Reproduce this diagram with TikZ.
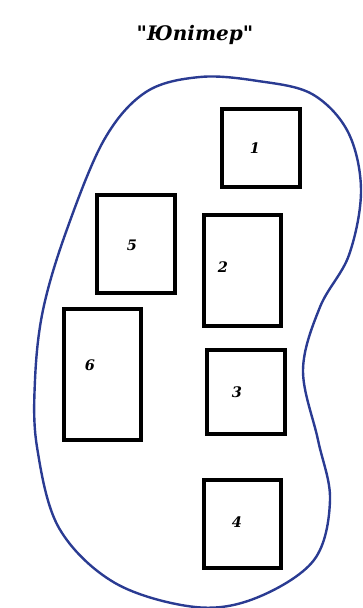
\documentclass[tikz,border=0pt]{standalone}
\usepackage{fontspec}
\setmainfont{DejaVu Serif}[Ligatures=TeXOff]
\usepackage{xcolor}
\usepackage{tikz}
\usetikzlibrary{positioning}
\definecolor{planet}{HTML}{2A3B92}
\newcommand{\qmark}{{\upshape\char"22}}
\tikzset{
  blob/.style={draw=planet,line width=2.4pt},
  room/.style={draw=black,line width=4pt,fill=white,inner sep=0pt},
  num/.style={font=\fontsize{14.5}{16}\selectfont\bfseries\itshape},
  title/.style={font=\fontsize{20}{24}\selectfont\bfseries\itshape},
}
\begin{document}
\begin{tikzpicture}[x=1pt,y=-1pt]
\useasboundingbox (0,0) rectangle (363,608);
% title
\node[title] (tt) at (195,35) {\qmark Юпітер\qmark};
% outline of the planet
\draw[blob] plot[smooth cycle,tension=0.58] coordinates {
  (200,77) (258,81) (312,94) (348,132) (361,190) (349,255) (320,307)
  (303,370) (318,440) (330,500) (314,560) (256,598) (195,607) (115,583)
  (59,528) (37,447) (35,380) (43,310) (66,232) (104,140) (146,92)};
% boxes
\node[room,minimum width=78pt,minimum height=78pt] (b1) at (261,148) {};
\node[room,minimum width=77pt,minimum height=111pt] (b2) at (242.5,270.5) {};
\node[room,minimum width=78pt,minimum height=84pt] (b3) at (246,392) {};
\node[room,minimum width=77pt,minimum height=88pt] (b4) at (242.5,524) {};
\node[room,minimum width=78pt,minimum height=98pt] (b5) at (136,244) {};
\node[room,minimum width=77pt,minimum height=131pt] (b6) at (102.5,374.5) {};
% numbers
\node[num] (n1) at (255,148) {1};
\node[num] (n2) at (223,267) {2};
\node[num] (n3) at (237,392) {3};
\node[num] (n4) at (237,522) {4};
\node[num] (n5) at (132,245) {5};
\node[num] (n6) at (90,365) {6};
\end{tikzpicture}
\end{document}
